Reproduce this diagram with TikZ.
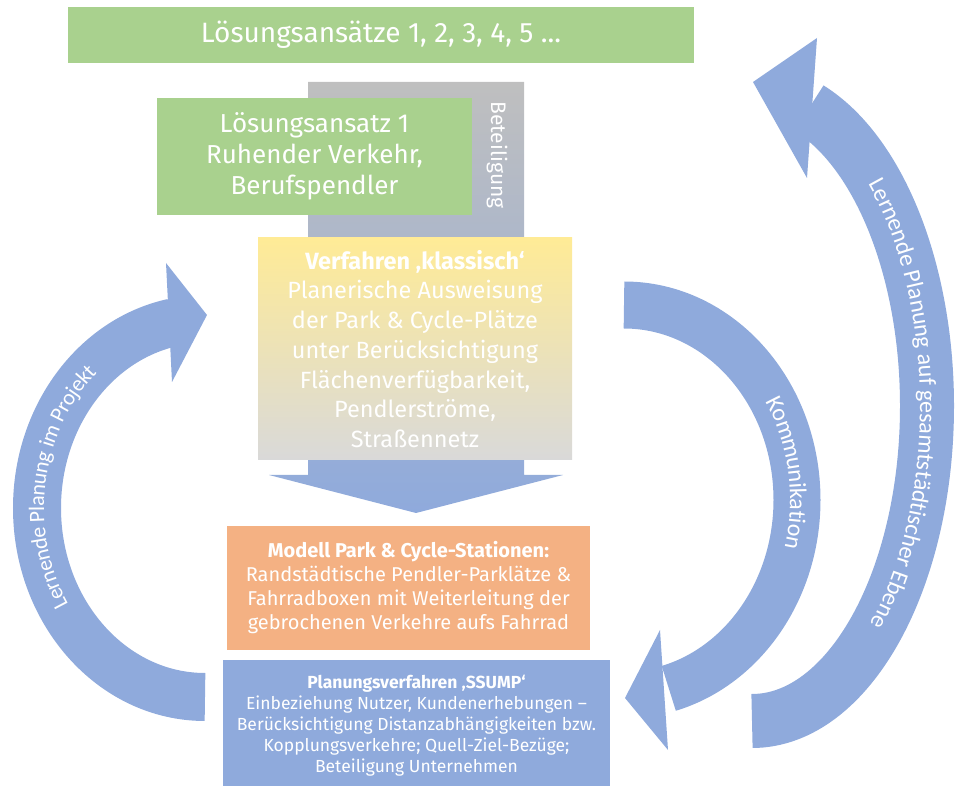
\documentclass[tikz,border=0pt]{standalone}
\usepackage{fontspec}
\setmainfont{Fira Sans}
\newfontfamily\arcfont{Carlito}
\usepackage{xcolor}
\usetikzlibrary{positioning,calc,decorations.text}

\definecolor{lgreen}{HTML}{A9D18E}
\definecolor{lblue}{HTML}{8FAADC}
\definecolor{lorange}{HTML}{F4B183}
\definecolor{lyellow}{HTML}{FFEB96}
\definecolor{lgray}{HTML}{D9D9D9}
\definecolor{mgray}{HTML}{BFBFBF}

\begin{document}
\begin{tikzpicture}[x=1pt,y=1pt,
    box/.style={inner sep=0pt, align=center, text=white},
    band/.style={draw=lblue, line width=#1},
    arctext/.style n args={2}{decorate, decoration={text along path, text color=white,
        text align=center, raise=-7pt, text={|\arcfont\fontsize{#2}{#2}\selectfont|#1}}}]
    \useasboundingbox (0,0) rectangle (959,785);
    \clip (0,0) rectangle (959,785);

    \node[box, fill=lgreen, minimum width=626, minimum height=56,
        font=\fontsize{28}{28}\selectfont] (banner) at (381,750) {Lösungsansätze 1, 2, 3, 4, 5 ...};

    % big down arrow, gray to blue
    \shade[top color=mgray, bottom color=lblue] (308,703) -- (524,703) -- (524,310) -- (563,310)
        -- (416,272) -- (269,310) -- (308,310) -- cycle;
    \node[text=white, rotate=-90, font=\fontsize{21}{21}\selectfont] (beteil) at (497,630) {Beteiligung};

    \node[box, fill=lgreen, minimum width=315, minimum height=117,
        font=\fontsize{26}{31}\selectfont] (ansatz) at (314.5,628.5)
        {Lösungsansatz 1\\Ruhender Verkehr,\\Berufspendler};
    \node[box, top color=lyellow, bottom color=lgray, minimum width=314, minimum height=222,
        font=\fontsize{23.5}{29.7}\selectfont] (klassisch) at (415,436)
        {\textbf{Verfahren ‚klassisch‘}\\Planerische Ausweisung\\der Park \& Cycle-Plätze\\unter Berücksichtigung\\Flächenverfügbarkeit,\\Pendlerströme,\\Straßennetz};
    \node[box, fill=lorange, minimum width=363, minimum height=124,
        font=\fontsize{20}{24}\selectfont] (modell) at (408.5,197)
        {\textbf{Modell Park \& Cycle-Stationen:}\\Randstädtische Pendler-Parklätze \&\\Fahrradboxen mit Weiterleitung der\\gebrochenen Verkehre aufs Fahrrad};
    \node[box, fill=lblue, minimum width=387, minimum height=130, anchor=north,
        font=\fontsize{17.5}{21}\selectfont] (ssump) at (416.5,125)
        {\textbf{Planungsverfahren ‚SSUMP‘}\\Einbeziehung Nutzer, Kundenerhebungen --\\Berücksichtigung Distanzabhängigkeiten bzw.\\Kopplungsverkehre; Quell-Ziel-Bezüge;\\Beteiligung Unternehmen};

    % left loop
    \coordinate (lc) at (205,277);
    \draw[band=48] ($(lc)+(270:168 and 189)$) arc[start angle=270, end angle=101, x radius=168, y radius=189];
    \fill[lblue] (166,522) -- (207,470) -- (172,403) -- cycle;
    \path[arctext={Lernende Planung im Projekt}{22}] ($(lc)+(216:168 and 189)$)
        arc[start angle=216, end angle=128, x radius=168, y radius=189];

    % Kommunikation
    \coordinate (kc) at (624,285);
    \draw[band=47] ($(kc)+(90:173 and 195)$) arc[start angle=90, end angle=-75, x radius=173, y radius=195];
    \fill[lblue] (660,155) -- (625,87) -- (668,35) -- cycle;
    \path[arctext={Kommunikation}{24}] ($(kc)+(33:173 and 195)$)
        arc[start angle=33, end angle=-16, x radius=173, y radius=195];

    % outer loop
    \coordinate (oc) at (752,379);
    \draw[band=54] ($(oc)+(-90:175 and 315)$) arc[start angle=-90, end angle=71, x radius=175, y radius=315];
    \fill[lblue] (817,747) -- (753,703) -- (807,607) -- cycle;
    \path[arctext={Lernende Planung auf gesamtstädtischer Ebene}{24}] ($(oc)+(49:175 and 315)$)
        arc[start angle=49, end angle=-48, x radius=175, y radius=315];
\end{tikzpicture}
\end{document}
